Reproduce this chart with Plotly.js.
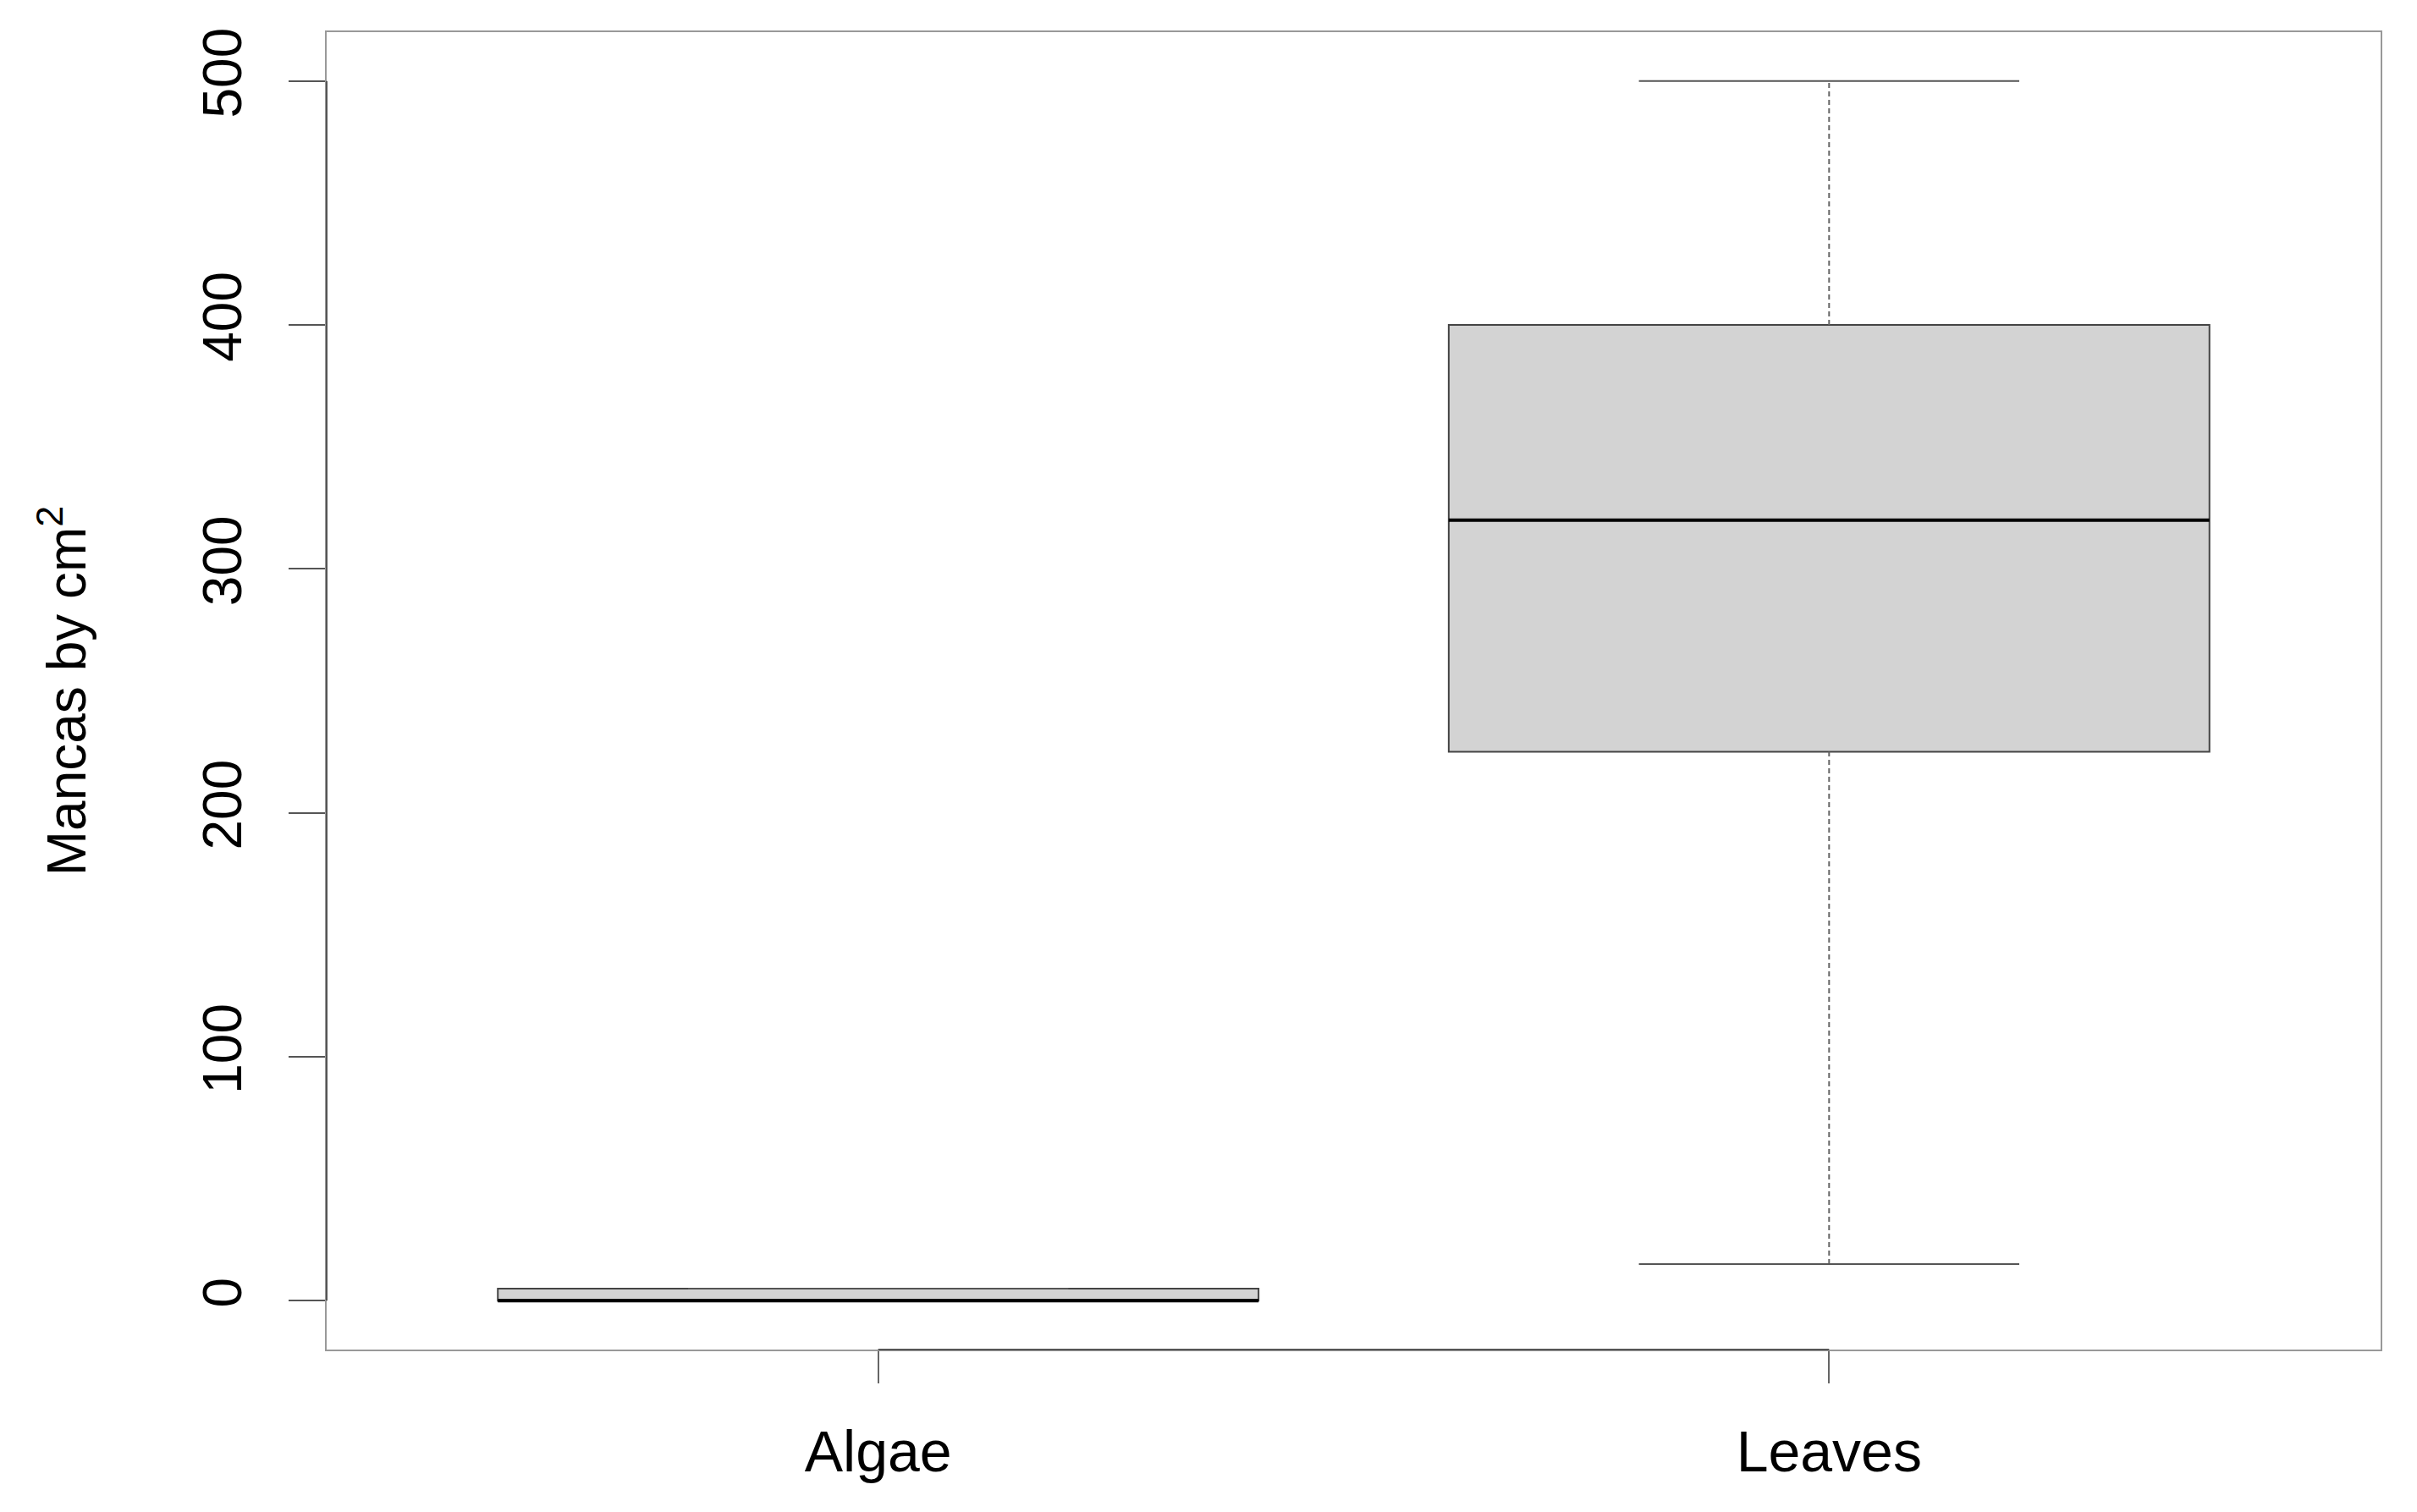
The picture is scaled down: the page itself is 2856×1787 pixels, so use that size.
<!DOCTYPE html>
<html>
<head>
<meta charset="utf-8">
<script src="https://cdn.plot.ly/plotly-3.0.1.min.js"></script>
<style>html,body{margin:0;padding:0;background:#fff;}#chart{width:2856px;height:1787px;}</style>
</head>
<body>
<div id="chart"></div>
<script>
// Data
const categories = ['Algae', 'Leaves'];
const positions = [1, 2];
const whiskerLow = [0, 15];
const q1 = [0, 225];
const median = [0, 320];
const q3 = [5, 400];
const whiskerHigh = [5, 500];
const yTicks = [0, 100, 200, 300, 400, 500];
const yTitle = 'Mancas by cm<sup>2</sup>';

const boxWidth = 0.8;
const stapleHalf = 0.2;
const FONT = 'Liberation Sans, Arial, Helvetica, sans-serif';

const boxTrace = {
  type: 'box',
  x: positions,
  q1: q1,
  median: median,
  q3: q3,
  lowerfence: q1,
  upperfence: q3,
  width: boxWidth,
  whiskerwidth: 0,
  boxpoints: false,
  fillcolor: '#d3d3d3',
  line: {color: '#444444', width: 2},
  hoverinfo: 'skip',
  showlegend: false
};

// dashed whiskers
const wx = [], wy = [];
positions.forEach((p, i) => {
  wx.push(p, p, null, p, p, null);
  wy.push(q3[i], whiskerHigh[i], null, whiskerLow[i], q1[i], null);
});
const whiskers = {
  type: 'scatter', mode: 'lines', x: wx, y: wy,
  line: {color: '#666666', width: 2, dash: '6px,4px'},
  hoverinfo: 'skip', showlegend: false
};

// staples
const sx = [], sy = [];
positions.forEach((p, i) => {
  sx.push(p - stapleHalf, p + stapleHalf, null, p - stapleHalf, p + stapleHalf, null);
  sy.push(whiskerHigh[i], whiskerHigh[i], null, whiskerLow[i], whiskerLow[i], null);
});
const staples = {
  type: 'scatter', mode: 'lines', x: sx, y: sy,
  line: {color: '#555555', width: 2},
  hoverinfo: 'skip', showlegend: false
};

// thick medians
const mx = [], my = [];
positions.forEach((p, i) => {
  mx.push(p - boxWidth / 2, p + boxWidth / 2, null);
  my.push(median[i], median[i], null);
});
const medians = {
  type: 'scatter', mode: 'lines', x: mx, y: my,
  line: {color: '#000000', width: 4},
  hoverinfo: 'skip', showlegend: false
};

const layout = {
  width: 2856, height: 1787,
  paper_bgcolor: '#ffffff', plot_bgcolor: '#ffffff',
  margin: {l: 386, r: 43, t: 38, b: 192, pad: 0},
  showlegend: false,
  font: {family: FONT, color: '#000000'},
  xaxis: {
    range: [0.42, 2.58],
    tickvals: positions,
    ticktext: categories,
    ticks: 'outside', ticklen: 38, tickwidth: 2, tickcolor: '#666666',
    tickfont: {family: FONT, size: 68, color: '#000000'},
    showgrid: false, zeroline: false,
    showline: true, mirror: true, linecolor: '#999999', linewidth: 2,
    ticklabelstandoff: 22
  },
  yaxis: {
    range: [-20, 520],
    tickvals: yTicks,
    ticktext: yTicks.map(String),
    tickangle: -90,
    ticks: 'outside', ticklen: 43, tickwidth: 2, tickcolor: '#555555',
    tickfont: {family: FONT, size: 64, color: '#000000'},
    ticklabelstandoff: 30,
    showgrid: false, zeroline: false,
    showline: true, mirror: true, linecolor: '#999999', linewidth: 2,
    title: {text: yTitle, font: {family: FONT, size: 64, color: '#000000'}, standoff: 105}
  },
  shapes: [
    {type: 'line', xref: 'paper', yref: 'y', x0: 0, x1: 0, y0: yTicks[0], y1: yTicks[yTicks.length - 1],
     line: {color: '#555555', width: 2}},
    {type: 'line', xref: 'x', yref: 'paper', x0: positions[0], x1: positions[positions.length - 1], y0: 0, y1: 0,
     line: {color: '#555555', width: 2}}
  ]
};

Plotly.newPlot('chart', [boxTrace, whiskers, staples, medians], layout, {displayModeBar: false, staticPlot: true});
</script>
</body>
</html>
